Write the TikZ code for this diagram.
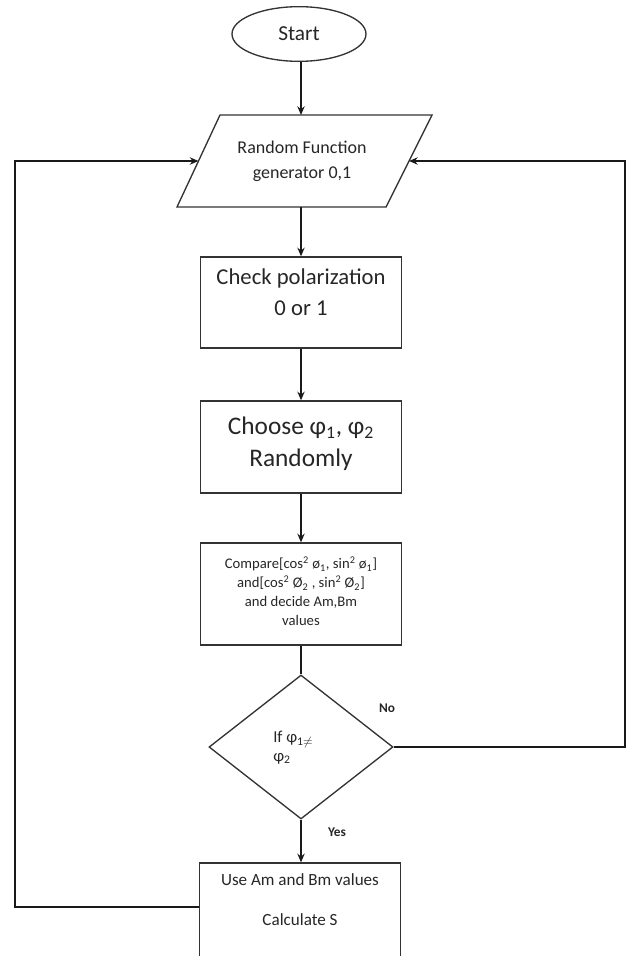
\documentclass[tikz,border=0pt]{standalone}
\usepackage{fontspec}
\setmainfont{Carlito}
\usetikzlibrary{arrows.meta,shapes.geometric}
\begin{document}
\begin{tikzpicture}[x=0.75pt,y=-0.75pt,
  shapeline/.style={draw=black!80, line width=1pt, inner sep=0pt},
  conn/.style={draw=black!90, line width=1.35pt},
  arr/.style={conn, -{Stealth[length=6.5pt,width=5.5pt]}},
  txt/.style={text=black!85, inner sep=0pt, align=center},
  boxnode/.style={shapeline, rectangle, minimum width=151pt}]
\useasboundingbox (0,0) rectangle (628,956);

% start
\node[shapeline, ellipse, minimum width=100.5pt, minimum height=41pt] (start) at (299,34) {};
\node[txt, font=\fontsize{16}{19}\selectfont] (starttxt) at (299,34) {Start};

% parallelogram
\coordinate (pbl) at (177,207);
\coordinate (ptl) at (220,115);
\coordinate (ptr) at (432,115);
\coordinate (pbr) at (386,207);
\draw[shapeline] (pbl) -- (ptl) -- (ptr) -- (pbr) -- cycle;
\coordinate (pwest) at (198.5,161);
\coordinate (peast) at (409,161);
\coordinate (ptop) at (301,115);
\coordinate (pbot) at (301,207);
\node[txt, font=\fontsize{13.5}{19}\selectfont] (paratxt) at (302,161) {Random Function\\generator 0,1};

\node[boxnode, minimum height=68.25pt] (check) at (301,302.5) {};
\node[txt, font=\fontsize{17}{23.25}\selectfont] (checktxt) at (301,292.5) {Check polarization\\0 or 1};

\node[boxnode, minimum height=69pt] (choose) at (301,447) {};
\node[txt, font=\fontsize{19}{24}\selectfont] (choosetxt) at (301,444) {Choose φ\textsubscript{1}, φ\textsubscript{2}\\Randomly};

\node[boxnode, minimum height=76.5pt] (comp) at (301,594) {};
\node[txt, font=\fontsize{11}{14.25}\selectfont] (comptxt) at (301,591.5)
  {Compare[cos\textsuperscript{2} ø\textsubscript{1}, sin\textsuperscript{2} ø\textsubscript{1}]\\
   and[cos\textsuperscript{2} Ø\textsubscript{2} , sin\textsuperscript{2} Ø\textsubscript{2}]\\
   and decide Am,Bm\\values};

\node[shapeline, diamond, inner sep=1pt, shape aspect=1.28, minimum width=138pt, minimum height=108pt] (dec) at (301,747) {};
\node[txt, align=left, anchor=west, font=\fontsize{12.5}{14.25}\selectfont] (dectxt) at (273,747.5)
  {If φ\textsubscript{1$\neq$}\\φ\textsubscript{2}};

\node[boxnode, minimum height=71.25pt] (use) at (300,910.5) {};
\node[txt, font=\fontsize{12.8}{30}\selectfont] (usetxt) at (300,900) {Use Am and Bm values\\Calculate S};

\node[txt, font=\bfseries\fontsize{10}{11}\selectfont] (no) at (387,708) {No};
\node[txt, font=\bfseries\fontsize{10}{11}\selectfont] (yes) at (337,832) {Yes};

% connectors
\draw[arr] (start.south -| ptop) -- (ptop);
\draw[arr] (pbot) -- (check.north);
\draw[arr] (check.south) -- (choose.north);
\draw[arr] (choose.south) -- (comp.north);
\draw[conn] (comp.south) -- (dec.north);
\draw[arr] (dec.south) -- (dec.south |- use.north);
\coordinate (lc) at (15,907);
\draw[arr] (use.west |- lc) -- (lc) |- (pwest);
\coordinate (rc) at (625,747);
\draw[arr] (dec.east) -- (rc) |- (peast);
\end{tikzpicture}
\end{document}
